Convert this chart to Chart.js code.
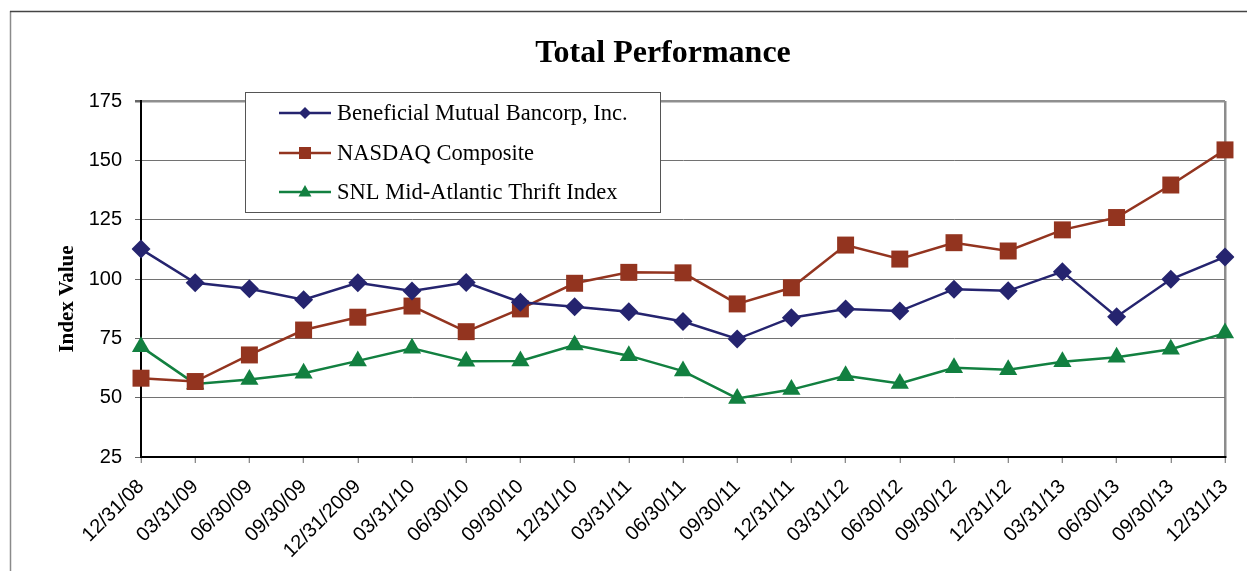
<!DOCTYPE html>
<html>
<head>
<meta charset="utf-8">
<title>Total Performance</title>
<script src="https://cdn.jsdelivr.net/npm/chart.js@4"></script>
<style>
  html, body { margin: 0; padding: 0; background: #fff; }
  #wrap { position: relative; width: 1247px; height: 571px; }
</style>
</head>
<body>
<div id="wrap"><canvas id="perfChart" width="1247" height="571"></canvas></div>
<script>
const dateLabels = ['12/31/08', '03/31/09', '06/30/09', '09/30/09', '12/31/2009', '03/31/10', '06/30/10',
    '09/30/10', '12/31/10', '03/31/11', '06/30/11', '09/30/11', '12/31/11', '03/31/12', '06/30/12',
    '09/30/12', '12/31/12', '03/31/13', '06/30/13', '09/30/13', '12/31/13'];
const beneficial = [112.6, 98.4, 95.9, 91.3, 98.4, 94.9, 98.5, 90.2, 88.3, 86.2, 82.1, 74.7, 83.7, 87.4, 86.5, 95.7, 95.0, 103.1, 84.1, 99.9, 109.3];
const nasdaq = [58.2, 56.8, 68.0, 78.5, 83.9, 88.6, 77.8, 87.4, 98.2, 102.8, 102.6, 89.5, 96.3, 114.3, 108.4, 115.3, 111.8, 120.7, 125.9, 139.6, 154.4];
const snlThrift = [71.5, 55.8, 57.7, 60.3, 65.5, 70.8, 65.3, 65.5, 72.2, 67.7, 61.2, 49.7, 53.4, 59.2, 56.0, 62.6, 61.8, 65.1, 67.0, 70.4, 77.2];
const seriesNames = ['Beneficial Mutual Bancorp, Inc.', 'NASDAQ Composite', 'SNL Mid-Atlantic Thrift Index'];
const chartTitle = 'Total Performance';
const yTitle = 'Index Value';
const yMin = 25, yMax = 175, yStep = 25;

const colors = ['#25246f', '#93341f', '#128040'];
const styles = ['rectRot', 'rect', 'triangle'];
const radii = [9.5, 12, 10.5];

// outer frame, title, y title and the floating legend
const decorations = {
    id: 'decorations',
    beforeDraw(chart) {
        const c = chart.ctx;
        c.save();
        c.fillStyle = '#fff';
        c.fillRect(0, 0, chart.width, chart.height);
        c.strokeStyle = '#8a8a8a';
        c.lineWidth = 1.5;
        c.beginPath();
        c.moveTo(10.5, chart.height);
        c.lineTo(10.5, 11);
        c.stroke();
        c.strokeStyle = '#444';
        c.beginPath();
        c.moveTo(10, 11.5);
        c.lineTo(chart.width, 11.5);
        c.stroke();
        c.restore();
    },
    afterDraw(chart) {
        const c = chart.ctx;
        c.save();
        c.fillStyle = '#000';
        c.textAlign = 'center';
        c.textBaseline = 'middle';
        c.font = 'bold 32px "Liberation Serif", "Times New Roman", serif';
        c.fillText(chartTitle, 663, 54);
        c.translate(68, 299);
        c.rotate(-Math.PI / 2);
        c.font = 'bold 21px "Liberation Serif", "Times New Roman", serif';
        c.fillText(yTitle, 0, 0);
        c.restore();

        // legend box
        c.save();
        c.fillStyle = '#fff';
        c.fillRect(245, 92, 415, 120);
        c.strokeStyle = '#555';
        c.lineWidth = 1;
        c.strokeRect(245.5, 92.5, 415, 120);
        const rows = [113, 153, 192];
        chart.data.datasets.forEach(function(ds, i) {
            const y = rows[i];
            c.strokeStyle = ds.borderColor;
            c.lineWidth = 2.5;
            c.beginPath();
            c.moveTo(279, y);
            c.lineTo(331, y);
            c.stroke();
            c.fillStyle = ds.borderColor;
            c.beginPath();
            if (i === 0) {
                c.moveTo(305, y - 6); c.lineTo(311, y); c.lineTo(305, y + 6); c.lineTo(299, y);
            } else if (i === 1) {
                c.rect(299, y - 6, 12, 12);
            } else {
                c.moveTo(305, y - 7); c.lineTo(311.5, y + 4.5); c.lineTo(298.5, y + 4.5);
            }
            c.closePath();
            c.fill();
            c.fillStyle = '#000';
            c.font = '22.5px "Liberation Serif", "Times New Roman", serif';
            c.textAlign = 'left';
            c.textBaseline = 'middle';
            c.fillText(ds.label, 337, y + 1);
        });
        c.restore();
    }
};

function makeSet(i, values) {
    return {
        label: seriesNames[i],
        data: values,
        borderColor: colors[i],
        backgroundColor: colors[i],
        borderWidth: 2.5,
        pointStyle: styles[i],
        pointRadius: radii[i],
        pointHoverRadius: radii[i],
        pointBorderWidth: 0,
        tension: 0
    };
}

const ctx = document.getElementById('perfChart').getContext('2d');
const perfChart = new Chart(ctx, {
    type: 'line',
    data: {
        labels: dateLabels,
        datasets: [makeSet(0, beneficial), makeSet(1, nasdaq), makeSet(2, snlThrift)]
    },
    options: {
        responsive: false,
        animation: false,
        layout: { padding: { left: 0, right: 22, top: 101, bottom: 0 } },
        plugins: {
            legend: { display: false },
            tooltip: { enabled: false },
            title: { display: false }
        },
        scales: {
            x: {
                afterFit: function(scale) {
                    scale.height = 114;
                    scale.paddingRight = 0;
                    scale.paddingLeft = 0;
                },
                grid: {
                    color: function(c) { return c.index === dateLabels.length - 1 ? '#8c8c8c' : 'rgba(0,0,0,0)'; },
                    lineWidth: 2.5,
                    tickColor: '#666',
                    tickLength: 6,
                    tickWidth: 1
                },
                border: { color: '#000', width: 2 },
                ticks: {
                    color: '#000',
                    maxRotation: 45,
                    minRotation: 45,
                    autoSkip: false,
                    padding: 12,
                    font: { family: '"Liberation Sans", Arial, sans-serif', size: 20 }
                }
            },
            y: {
                min: yMin,
                max: yMax,
                afterFit: function(scale) { scale.width = 141; },
                grid: {
                    color: function(c) { return c.tick && c.tick.value === yMax ? '#8f8f8f' : '#727272'; },
                    lineWidth: function(c) { return c.tick && c.tick.value === yMax ? 2.5 : 1; },
                    tickColor: '#666',
                    tickLength: 6
                },
                border: { color: '#000', width: 2 },
                ticks: {
                    stepSize: yStep,
                    color: '#000',
                    padding: 13,
                    font: { family: '"Liberation Sans", Arial, sans-serif', size: 20 }
                }
            }
        }
    },
    plugins: [decorations]
});
</script>
</body>
</html>
